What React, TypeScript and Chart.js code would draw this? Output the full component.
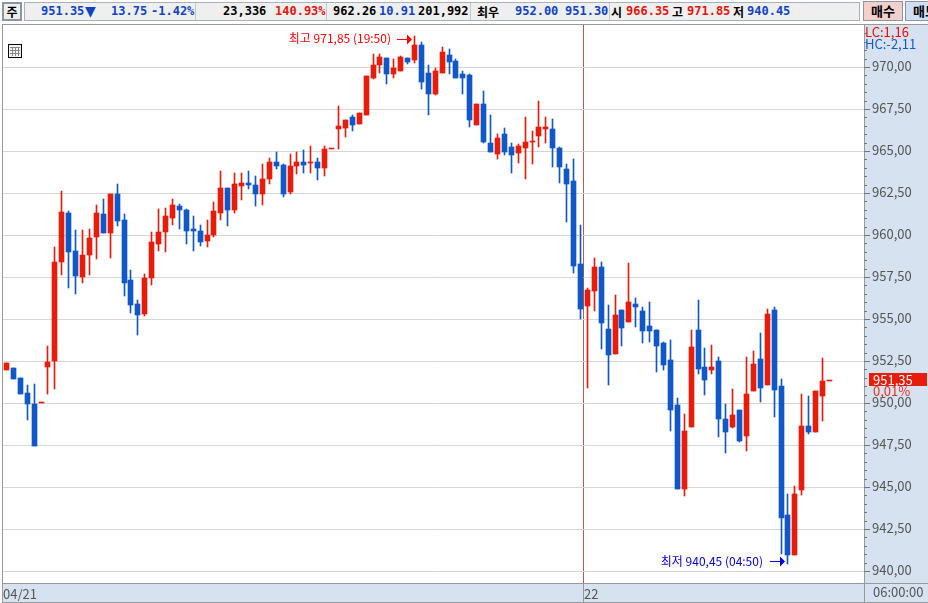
import React, { useEffect, useRef } from "react";
import { Chart, BarController, BarElement, LinearScale } from "chart.js";

const opens = [952,952.1,951.5,950.6,949.95,950.05,952.15,952.5,958.4,961.35,959.05,957.5,958.85,959.9,961.3,960.15,962.45,960.9,957.35,955.9,955.3,957.45,959.5,960.2,961.05,961.75,961.5,960.4,960.25,959.65,960,961.35,962.8,961.5,962.95,963.1,963,962.5,963.35,964.35,964.2,962.6,964.15,964.35,964.3,964.4,964,965.15,966.35,966.4,967.05,966.65,967.15,969.4,970.15,970.55,969.6,969.8,970.55,970.45,971.35,969.7,968.45,969.65,970.75,970.4,969.6,969.55,966.55,967.8,965.5,964.85,966.05,965.25,964.9,965.2,965.55,965.9,966.35,966.35,965.2,963.95,963.25,958.3,955.8,956.7,958.1,954.45,952.95,955.55,954.85,955.95,955.5,954.6,954.35,953.6,952.6,949.9,944.9,948.6,954.35,952.2,952,952.5,949.05,948.6,949.6,948.05,950.75,952.65,951.1,955.55,951.05,943.35,941,944.85,948.65,948.3,950.45,951.35];
const closes = [952.4,951.45,950.55,949.95,947.45,950.05,952.45,958.45,961.4,959,957.6,958.85,959.85,961.35,960.15,962.45,960.85,957.2,955.85,955.25,957.45,959.6,960.2,961.15,961.8,961.5,960.25,960.25,959.6,960,961.45,962.8,961.5,963.05,963.1,963,962.45,963.35,964.4,964.15,962.5,964.15,964.35,964.2,964.4,964,965.15,965.15,966.5,966.9,966.55,967.3,969.5,970.15,970.6,969.6,969.95,970.6,970.35,971.35,969.15,968.4,969.8,970.9,970.3,969.35,969.4,966.85,967.8,965.55,964.95,965.8,965,964.8,965.3,965.55,965.6,966.45,966.45,965.2,964.05,963.05,958.2,955.65,956.75,958.1,954.8,952.9,955.25,954.5,956.05,955.75,954.3,954.3,953.4,952.3,949.6,944.9,948.35,953.35,952.05,951.4,952.2,949.05,948.3,949.3,947.75,950.55,952.35,950.9,955.3,950.8,943.2,941,944.6,948.65,948.3,950.75,951.35,951.35];
const highs = [952.4,952.1,951.5,951.1,951.15,950.05,953.45,959.3,962.65,961.45,960.3,960.3,960.4,961.8,962.2,962.5,963.05,961.25,957.95,956.15,957.7,960.2,961.55,961.65,962.15,961.85,961.55,961.15,960.65,960.9,962,963.85,962.8,963.7,963.7,963.85,963.55,964.25,964.6,964.95,964.25,964.85,965,965.1,965.3,964.6,965.3,965.15,967.7,966.9,967.2,967.3,969.5,970.8,970.8,970.55,970.5,970.7,970.55,971.85,971.5,970.15,969.95,971.25,971.1,970.5,969.8,969.6,967.8,968.6,967.15,966.05,966.4,965.5,965.45,967.05,966.25,968,967.05,966.95,965.25,964.25,964.55,960.6,956.85,958.65,958.4,955.85,956.45,955.55,958.35,956.25,955.75,956.05,954.4,953.65,953.75,950.3,949.4,954.35,956.15,953.3,953.5,952.75,949.95,950.85,949.6,952.75,953.1,954.2,955.6,955.75,951.45,944.6,945.1,950.55,950.45,950.75,952.7,951.35];
const lows = [952,951.45,950.55,949,947.45,950.05,950.55,950.85,957.65,956.85,956.5,957.15,957.65,958.6,960.15,958.65,960.55,956.4,955.4,954.05,955.2,957.05,959.1,959,960.6,960.4,959.5,959.05,959.4,959.3,959.9,960.9,960.55,961.35,962.1,962.75,961.75,961.8,963.05,963.95,962.3,962.45,963.65,963.75,963.75,963.3,963.55,965.15,965.15,965.85,966.2,966.65,967.15,969.3,969.65,969,969.4,969.8,970.2,970.25,968.7,967.2,968.35,969.65,969.6,969.35,968.45,966.45,966.55,965.5,964.95,964.55,964.8,963.75,964.3,963.35,964.25,965.25,965.5,964.05,963.1,960.8,957.75,955.05,950.9,955.5,953.25,951.1,952.95,953.45,954.85,954.55,953.6,953.65,951.85,952,948.35,944.9,944.5,948.6,951.75,950.5,951.75,948,947.05,948.55,947.7,947.15,950.75,950.1,951.1,949.2,941.05,940.45,941,944.55,948.2,948.3,948.95,951.35];

const majorTicks = [940, 942.5, 945, 947.5, 950, 952.5, 955, 957.5, 960, 962.5, 965, 967.5, 970];
const dayTicks = [{ at: -0.5, label: "04/21" }, { at: 83.5, label: "22" }];
const timeLabel = "06:00:00";
const hiPoint = { index: 59, value: 971.85, text: "최고 971,85 (19:50)" };
const loPoint = { index: 113, value: 940.45, text: "최저 940,45 (04:50)" };
const lastPoint = { index: 119, value: 951.35, text: "951,35", rate: "0,01%" };
const lcText = "LC:1,16";
const hcText = "HC:-2,11";

const BLUE_T = "#0f43c6";
const RED_T = "#e5140c";
type Cell = { x: number; t: string; c: string };
const headerCells: Cell[] = [
  { x: 41, t: "951.35", c: BLUE_T },
  { x: 111, t: "13.75", c: BLUE_T },
  { x: 151, t: "-1.42%", c: BLUE_T },
  { x: 223, t: "23,336", c: "#000" },
  { x: 275, t: "140.93%", c: RED_T },
  { x: 333, t: "962.26", c: "#000" },
  { x: 379, t: "10.91", c: BLUE_T },
  { x: 418, t: "201,992", c: "#000" },
  { x: 477, t: "최우", c: "#000" },
  { x: 515, t: "952.00", c: BLUE_T },
  { x: 565, t: "951.30", c: BLUE_T },
  { x: 611, t: "시", c: "#000" },
  { x: 626, t: "966.35", c: RED_T },
  { x: 672, t: "고", c: "#000" },
  { x: 687, t: "971.85", c: RED_T },
  { x: 733, t: "저", c: "#000" },
  { x: 747, t: "940.45", c: BLUE_T },
];
const downMark = "▼";
const headerDividers = [195, 326, 470, 609];

const RED = "#e81c0a";
const BLUE = "#1058c8";
const PANEL = "#d6e2f0";
const BORDER = "#999999";
const NARROW = '"Liberation Sans Narrow", "Noto Sans CJK KR", sans-serif';

class CrispBar extends BarController {
  static id = "crispBar";
  static defaults = BarController.defaults;
  static overrides = BarController.overrides;
  updateElement(el: any, index: number, props: any, mode: any) {
    if (props) {
      props.x = Math.floor(props.x) + 0.5;
      const y = Math.round(props.y);
      const base = Math.round(props.base);
      props.y = y === base ? base - 1 : y;
      props.base = base;
    }
    super.updateElement(el, index, props, mode);
  }
}

Chart.register(CrispBar, BarElement, LinearScale);

const colorAt = (i: number) => (closes[i] >= opens[i] ? RED : BLUE);

function arrow(ctx: CanvasRenderingContext2D, tip: number, y: number, color: string) {
  ctx.strokeStyle = color;
  ctx.fillStyle = color;
  ctx.lineWidth = 1;
  ctx.beginPath();
  ctx.moveTo(tip - 15, y + 0.5);
  ctx.lineTo(tip - 4, y + 0.5);
  ctx.stroke();
  ctx.beginPath();
  ctx.moveTo(tip, y + 0.5);
  ctx.lineTo(tip - 5, y - 4.5);
  ctx.lineTo(tip - 5, y + 5.5);
  ctx.closePath();
  ctx.fill();
}

const paintPlugin = {
  id: "paint",
  beforeDraw(chart: any) {
    const { ctx, chartArea: a, width, height } = chart;
    ctx.save();
    ctx.fillStyle = "#ffffff";
    ctx.fillRect(a.left, a.top, a.right - a.left, a.bottom - a.top);
    ctx.fillStyle = PANEL;
    ctx.fillRect(a.right, a.top - 1, width - a.right, a.bottom - a.top + 2);
    ctx.fillRect(a.left - 1, a.bottom, width - a.left + 1, 19);
    ctx.fillStyle = BORDER;
    ctx.fillRect(2, a.top - 1, width - 2, 1);
    ctx.fillRect(2, a.top - 1, 1, height - a.top + 1);
    ctx.fillRect(2, a.bottom, width - 2, 1);
    ctx.fillRect(2, a.bottom + 19, width - 2, 1);
    ctx.fillRect(a.right, a.top - 1, 1, height - a.top + 1);
    ctx.restore();
  },
  afterDraw(chart: any) {
    const { ctx, scales } = chart;
    const xs = scales.x;
    const ys = scales.y;
    ctx.save();
    ctx.textBaseline = "middle";
    ctx.textAlign = "left";
    ctx.font = `13px ${NARROW}`;

    ctx.fillStyle = "#ff0000";
    ctx.fillText(lcText, 865, 32);
    ctx.fillStyle = "#1058d8";
    ctx.fillText(hcText, 865, 44);

    // price tag
    const ly = Math.round(ys.getPixelForValue(lastPoint.value));
    ctx.fillStyle = RED;
    ctx.fillRect(869, ly - 8, 58, 13);
    ctx.fillStyle = "#ffffff";
    ctx.fillText(lastPoint.text, 873, ly - 1);
    ctx.fillStyle = "#e83020";
    ctx.fillText(lastPoint.rate, 873, ly + 10);

    // time label
    ctx.fillStyle = "#555555";
    ctx.fillText(timeLabel, 873, 592);

    // hi / lo
    ctx.font = `12px ${NARROW}`;
    const hx = Math.floor(xs.getPixelForValue(hiPoint.index));
    const hy = Math.round(ys.getPixelForValue(hiPoint.value)) + 3;
    ctx.textAlign = "right";
    ctx.fillStyle = "#ff0000";
    ctx.fillText(hiPoint.text, hx - 23, hy - 1);
    arrow(ctx, hx - 2, hy, "#ff0000");

    const lx = Math.floor(xs.getPixelForValue(loPoint.index));
    const ly2 = Math.round(ys.getPixelForValue(loPoint.value)) - 3;
    ctx.fillStyle = "#0000e0";
    ctx.fillText(loPoint.text, lx - 24, ly2);
    arrow(ctx, lx - 2, ly2, "#0000e0");

    // grid-list icon
    ctx.fillStyle = "#f2f2f2";
    ctx.fillRect(8, 44, 14, 14);
    ctx.strokeStyle = "#000";
    ctx.lineWidth = 1;
    ctx.strokeRect(8.5, 44.5, 13, 13);
    ctx.strokeStyle = "#888";
    ctx.beginPath();
    for (const p of [12.5, 15.5, 18.5]) {
      ctx.moveTo(p, 47);
      ctx.lineTo(p, 56);
    }
    for (const p of [47.5, 50.5, 53.5]) {
      ctx.moveTo(10, p);
      ctx.lineTo(20, p);
    }
    ctx.stroke();
    ctx.restore();
  },
};

export default function App() {
  const ref = useRef<HTMLCanvasElement>(null);
  useEffect(() => {
    const chart = new Chart(ref.current!, {
      type: "crispBar" as any,
      data: {
        datasets: [
          {
            label: "body",
            data: opens.map((o, i) => ({ x: i, y: [o, closes[i]] })),
            backgroundColor: opens.map((_, i) => colorAt(i)),
            barThickness: 5,
            grouped: false,
            minBarLength: 1,
            borderWidth: 0,
            yAxisID: "y",
          },
          {
            label: "wick",
            data: highs.map((h, i) => ({ x: i, y: [lows[i], h] })),
            backgroundColor: highs.map((_, i) => (highs[i] > lows[i] ? colorAt(i) : "transparent")),
            barThickness: 1,
            grouped: false,
            borderWidth: 0,
            yAxisID: "y",
          },
        ] as any,
      },
      options: {
        animation: false,
        responsive: false,
        devicePixelRatio: 1,
        events: [],
        layout: { padding: { left: 3, top: 25, right: 0, bottom: 2 } },
        plugins: {},
        scales: {
          x: {
            type: "linear",
            position: "bottom",
            min: -0.506,
            max: 124.0,
            offset: false,
            afterBuildTicks(s: any) {
              s.ticks = dayTicks.map((d) => ({ value: d.at, label: d.label }));
            },
            afterFit(s: any) {
              s.height = 18;
            },
            border: { display: false },
            grid: {
              offset: false,
              color: (c: any) => (c.index === 1 ? "#b85a52" : "transparent"),
              tickColor: (c: any) => (c.index === 1 ? BORDER : "transparent"),
              tickLength: 19,
              lineWidth: 1,
            },
            ticks: {
              autoSkip: false,
              maxRotation: 0,
              align: "start",
              padding: -16,
              color: "#555555",
              font: { family: NARROW, size: 13 },
              callback: (_v: any, i: number) => dayTicks[i].label,
            },
          } as any,
          y2: {
            type: "linear",
            position: "right",
            weight: 0,
            min: 939.315,
            max: 972.53,
            afterBuildTicks(s: any) {
              const out = [];
              for (const m of majorTicks) {
                for (const k of [0, 0.5, 1, 1.5, 2]) out.push({ value: m + k });
              }
              s.ticks = out;
            },
            afterFit(s: any) {
              s.width = 0;
            },
            border: { display: false },
            grid: { drawOnChartArea: false, tickLength: 3, color: "#777777", tickColor: "#777777" },
            ticks: { display: false },
          } as any,
          y: {
            type: "linear",
            position: "right",
            weight: 1,
            min: 939.315,
            max: 972.53,
            afterBuildTicks(s: any) {
              s.ticks = majorTicks.map((v) => ({ value: v }));
            },
            afterFit(s: any) {
              s.width = 64;
            },
            border: { display: false },
            grid: { color: "#d6d6d6", tickColor: "#777777", tickLength: 6, lineWidth: 1 },
            ticks: {
              padding: 2,
              labelOffset: -1,
              color: "#555555",
              font: { family: NARROW, size: 13 },
              callback: (v: any) => Number(v).toFixed(2).replace(".", ","),
            },
          } as any,
        },
      },
      plugins: [paintPlugin],
    } as any);
    return () => chart.destroy();
  }, []);

  const mono = '"DejaVu Sans Mono", monospace';
  const kr = '"Noto Sans CJK KR", sans-serif';
  const btn = { position: "absolute", top: 1, width: 40, height: 20, boxSizing: "border-box", border: "1px solid #8a96a8", fontFamily: kr, fontWeight: 700, fontSize: 13, lineHeight: "18px", textAlign: "center", color: "#000" } as React.CSSProperties;
  return (
    <div style={{ position: "fixed", left: 0, top: 0, width: 928, height: 603, overflow: "hidden", background: "#fff" }}>
      <div style={{ position: "absolute", left: 2, top: 2, width: 20, height: 19, boxSizing: "border-box", border: "2px solid #8a96a8", background: "#efefef", fontFamily: kr, fontWeight: 700, fontSize: 12, lineHeight: "15px", textAlign: "center", color: "#000" }}>주</div>
      <div style={{ position: "absolute", left: 24, top: 2, width: 836, height: 19, boxSizing: "border-box", border: "1px solid #a8b0bc", background: "#efefef" }} />
      {headerDividers.map((x) => (
        <div key={x} style={{ position: "absolute", left: x, top: 3, width: 1, height: 17, background: "#c4c8cc" }} />
      ))}
      {headerCells.map((c) => (
        <span key={c.x} style={{ position: "absolute", left: c.x, top: 3, lineHeight: "17px", fontFamily: /[가-힣]/.test(c.t) ? kr : mono, fontWeight: 700, fontSize: 12, color: c.c, whiteSpace: "pre" }}>{c.t}</span>
      ))}
      <span style={{ position: "absolute", left: 85, top: 3, lineHeight: "17px", fontFamily: '"DejaVu Sans", sans-serif', fontSize: 14, color: BLUE_T, whiteSpace: "pre" }}>{downMark}</span>
      <div style={{ ...btn, left: 863, background: "#f4d0cc" }}>매수</div>
      <div style={{ ...btn, left: 905, background: "#cfe0f4" }}>매도</div>
      <canvas ref={ref} width={928} height={603} style={{ position: "absolute", left: 0, top: 0, pointerEvents: "none" }} />
    </div>
  );
}
